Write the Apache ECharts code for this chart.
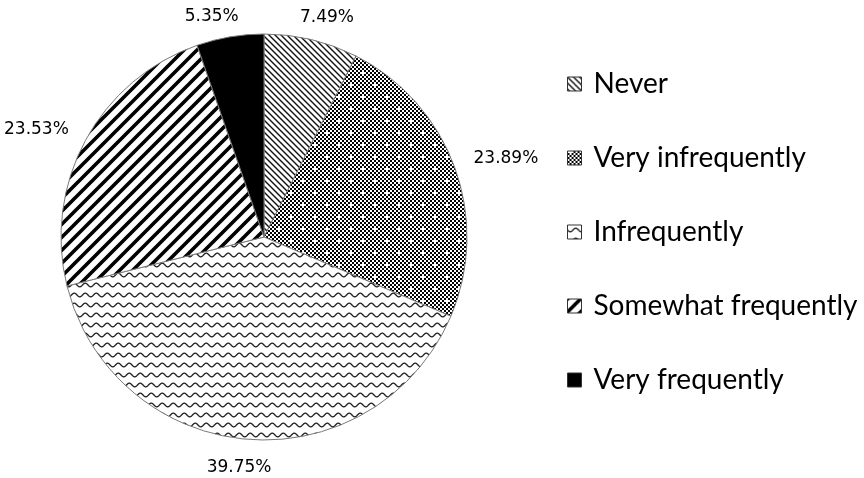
<!DOCTYPE html>
<html>
<head>
<meta charset="utf-8">
<script src="https://cdn.jsdelivr.net/npm/echarts@6/dist/echarts.min.js"></script>
<style>
html,body{margin:0;padding:0;background:#fff;}
#chart{width:864px;height:478px;}
</style>
</head>
<body>
<div id="chart"></div>
<script>
const categories = ['Never', 'Very infrequently', 'Infrequently', 'Somewhat frequently', 'Very frequently'];
const values = [7.49, 23.89, 39.75, 23.53, 5.35];

// label nudges (style only), relative to library-computed outside label position
const labelNudge = [[-21, -3], [-5, -2], [30, 8], [6, -1], [17, -1]];

function tile(w, h, draw) {
  const c = document.createElement('canvas');
  c.width = w; c.height = h;
  const ctx = c.getContext('2d');
  ctx.fillStyle = '#fff';
  ctx.fillRect(0, 0, w, h);
  draw(ctx, w, h);
  return c;
}

// Never: thin "\" diagonal lines
const patNever = tile(6, 6, (ctx, w, h) => {
  ctx.strokeStyle = '#111';
  ctx.lineWidth = 1.4;
  ctx.beginPath();
  ctx.moveTo(-1, -1); ctx.lineTo(w + 1, h + 1);
  ctx.moveTo(-1, h - 1); ctx.lineTo(1, h + 1);
  ctx.moveTo(w - 1, -1); ctx.lineTo(w + 1, 1);
  ctx.stroke();
});

// Very infrequently: 2px checker with white plus marks
const patVeryInf = tile(24, 24, (ctx) => {
  const white = new Set();
  const add = (cx, cy) => white.add(((cx + 12) % 12) + ',' + ((cy + 12) % 12));
  [[1, 0], [7, 6]].forEach(([cx, cy]) => {
    add(cx, cy); add(cx + 1, cy); add(cx - 1, cy); add(cx, cy + 1); add(cx, cy - 1);
  });
  ctx.fillStyle = '#000';
  for (let cy = 0; cy < 12; cy++) {
    for (let cx = 0; cx < 12; cx++) {
      if ((cx + cy) % 2 === 1 && !white.has(cx + ',' + cy)) {
        ctx.fillRect(cx * 2, cy * 2, 2, 2);
      }
    }
  }
});

// Infrequently: horizontal waves
const patInf = tile(11, 10, (ctx, w, h) => {
  ctx.strokeStyle = '#222';
  ctx.lineWidth = 1.3;
  ctx.beginPath();
  for (let x = -1; x <= w + 1; x += 0.5) {
    const y = h / 2 + 1.9 * Math.sin(2 * Math.PI * x / w);
    if (x === -1) ctx.moveTo(x, y); else ctx.lineTo(x, y);
  }
  ctx.stroke();
});

// Somewhat frequently: thick "/" stripes
const patSome = tile(13, 13, (ctx, w, h) => {
  ctx.strokeStyle = '#000';
  ctx.lineWidth = 3.6;
  ctx.beginPath();
  ctx.moveTo(-3, 3); ctx.lineTo(3, -3);
  ctx.moveTo(-3, h + 3); ctx.lineTo(w + 3, -3);
  ctx.moveTo(w - 3, h + 3); ctx.lineTo(w + 3, h - 3);
  ctx.stroke();
});

const fills = [
  { image: patNever, repeat: 'repeat' },
  { image: patVeryInf, repeat: 'repeat' },
  { image: patInf, repeat: 'repeat' },
  { image: patSome, repeat: 'repeat' },
  '#000'
];

const chart = echarts.init(document.getElementById('chart'), null, { renderer: 'canvas' });
chart.setOption({
  animation: false,
  backgroundColor: '#fff',
  legend: {
    orient: 'vertical',
    left: 567,
    top: 70,
    padding: 0,
    itemWidth: 14,
    itemHeight: 14,
    itemGap: 46,
    icon: 'rect',
    itemStyle: { borderColor: '#333', borderWidth: 1 },
    textStyle: {
      fontFamily: 'Lato',
      fontSize: 28,
      lineHeight: 28,
      color: '#000',
      padding: [0, 0, 0, 7]
    },
    data: categories
  },
  series: [{
    type: 'pie',
    center: [264, 237],
    radius: 203,
    startAngle: 90,
    clockwise: true,
    avoidLabelOverlap: false,
    itemStyle: { borderColor: '#7a7a7a', borderWidth: 1 },
    label: {
      show: true,
      position: 'outside',
      formatter: (p) => p.value.toFixed(2) + '%',
      fontFamily: 'DejaVu Sans',
      fontSize: 17,
      color: '#000'
    },
    labelLine: { show: false, length: 20, length2: 0 },
    labelLayout: (params) => ({ dx: labelNudge[params.dataIndex][0], dy: labelNudge[params.dataIndex][1] }),
    emphasis: { disabled: true },
    data: categories.map((name, i) => ({ name, value: values[i], itemStyle: { color: fills[i] } }))
  }]
});
</script>
</body>
</html>
